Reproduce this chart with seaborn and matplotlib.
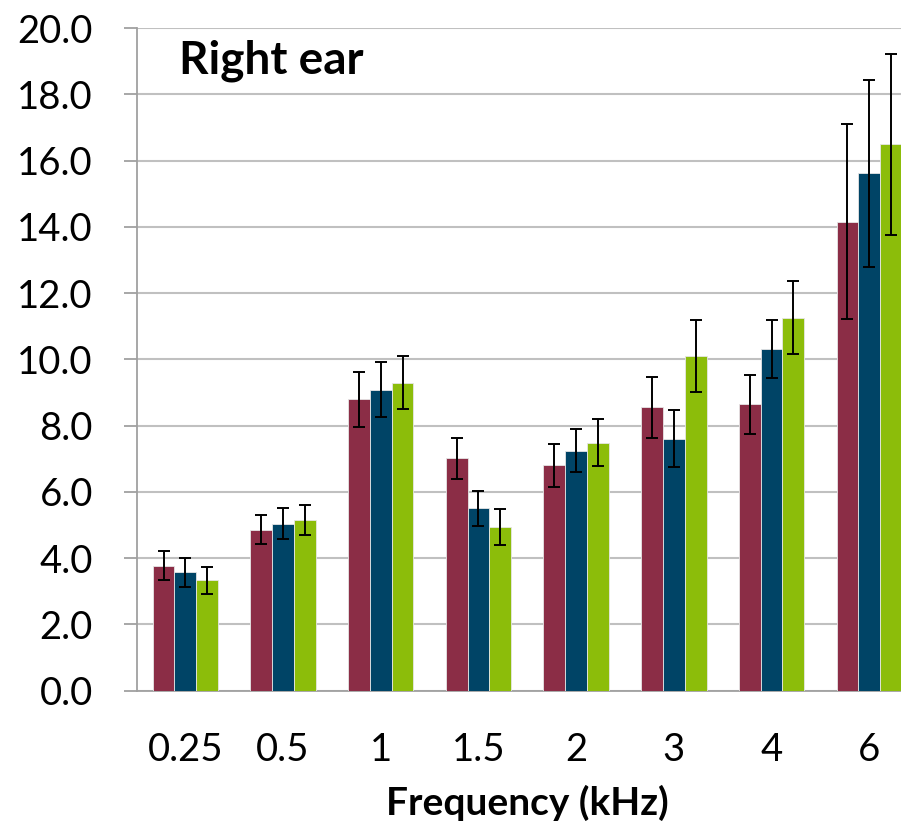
import numpy as np
import pandas as pd
import matplotlib
matplotlib.use("Agg")
import matplotlib.pyplot as plt
from matplotlib.container import BarContainer
import seaborn as sns

frequencies = ["0.25", "0.5", "1", "1.5", "2", "3", "4", "6"]
series_names = ["Group A", "Group B", "Group C"]
values_a = [3.77, 4.86, 8.80, 7.01, 6.81, 8.55, 8.64, 14.15]
values_b = [3.57, 5.04, 9.09, 5.50, 7.24, 7.61, 10.31, 15.61]
values_c = [3.33, 5.15, 9.30, 4.94, 7.49, 10.10, 11.26, 16.49]
err_a = [0.44, 0.43, 0.83, 0.62, 0.65, 0.93, 0.90, 2.94]
err_b = [0.43, 0.46, 0.84, 0.52, 0.65, 0.85, 0.87, 2.81]
err_c = [0.40, 0.46, 0.81, 0.55, 0.71, 1.09, 1.10, 2.74]
colors = ["#8B2D46", "#004466", "#8CBD0A"]

sns.set_theme(style="white")
plt.rcParams["font.family"] = ["Lato", "DejaVu Sans"]
plt.rcParams["text.color"] = "black"
plt.rcParams["axes.labelcolor"] = "black"

df = pd.DataFrame({
    "freq": frequencies * 3,
    "series": np.repeat(series_names, len(frequencies)),
    "value": values_a + values_b + values_c,
})
errs = [err_a, err_b, err_c]

fig = plt.figure(figsize=(9.01, 8.27), dpi=100)
ax = fig.add_axes([0.1515, 0.1648, 0.8675, 0.8013])

sns.barplot(data=df, x="freq", y="value", hue="series", order=frequencies,
            hue_order=series_names, palette=colors, width=0.67, ax=ax,
            edgecolor="#e6e6e6", linewidth=0.6, saturation=1, legend=False,
            errorbar=None, zorder=3)

bar_containers = [c for c in ax.containers if isinstance(c, BarContainer)]
for i, cont in enumerate(bar_containers):
    xs = [p.get_x() + p.get_width() / 2 for p in cont]
    hs = [p.get_height() for p in cont]
    ax.errorbar(xs, hs, yerr=errs[i], fmt="none", ecolor="black",
                elinewidth=1.4, capsize=4.5, capthick=1.4, zorder=4)

ax.set_ylim(0, 20)
ax.set_xlim(-0.5, 7.5)
ax.set_yticks(np.arange(0, 20.1, 2))
ax.set_yticklabels([f"{v:.1f}" for v in np.arange(0, 20.1, 2)])
ax.yaxis.grid(True, color="#c0c0c0", linewidth=1.5, zorder=0)
ax.set_axisbelow(True)
for s in ["top", "right"]:
    ax.spines[s].set_visible(False)
for s in ["left", "bottom"]:
    ax.spines[s].set_color("#a0a0a0")
    ax.spines[s].set_linewidth(1.3)

ax.set_xticks(np.arange(-0.5, 7.6, 1), minor=True)
ax.tick_params(axis="x", which="major", length=0, pad=30, labelsize=27.5, labelcolor="black")
ax.tick_params(axis="x", which="minor", length=9.5, width=1.3, color="#a0a0a0", direction="out")
ax.tick_params(axis="y", which="major", length=9.5, width=1.3, color="#a0a0a0",
               direction="out", pad=22, labelsize=27.5, labelcolor="black", left=True)

ax.set_xlabel("Frequency (kHz)", fontsize=28, fontweight="bold", labelpad=12, color="black")
ax.set_ylabel("")
ax.text(0.055, 0.9317, "Right ear", transform=ax.transAxes, fontsize=33,
        fontweight="bold", va="baseline", ha="left", color="black")

fig.savefig("out.png", dpi=100)
